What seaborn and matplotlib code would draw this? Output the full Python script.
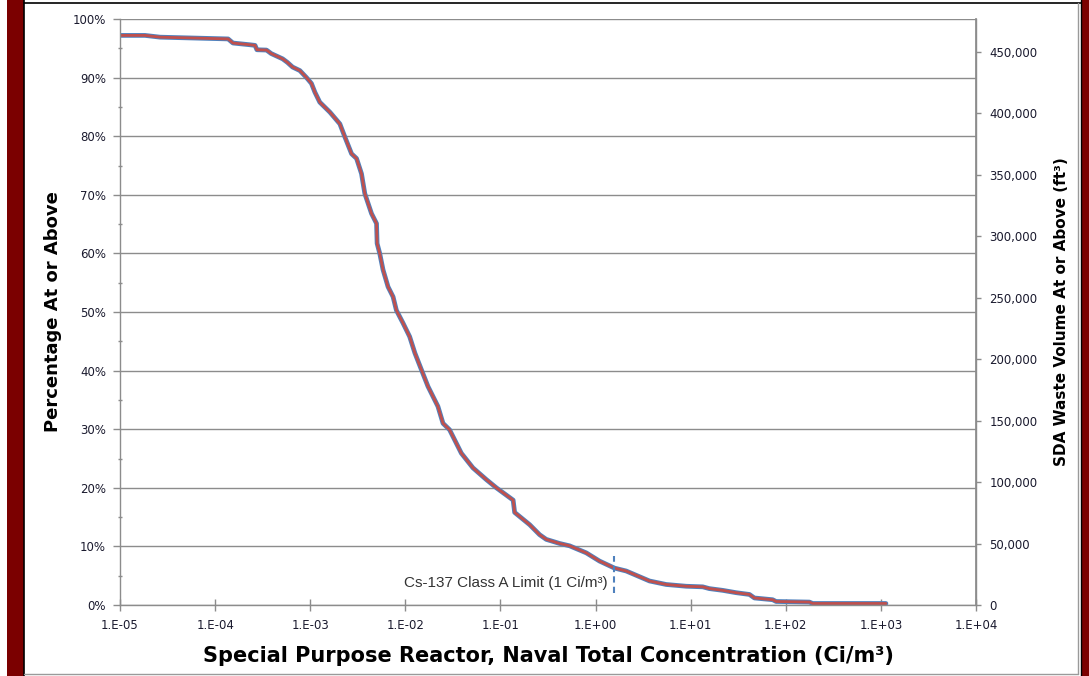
import numpy as np
import pandas as pd
import matplotlib
matplotlib.use("Agg")
import matplotlib.pyplot as plt
import seaborn as sns
from matplotlib.ticker import FuncFormatter, LogLocator, MultipleLocator, NullFormatter
from matplotlib.patches import Rectangle
from matplotlib.lines import Line2D

# ---- data ----
conc = [1.0e-5, 1.83e-5, 2.64e-5, 1.37e-4, 1.54e-4, 2.33e-4, 2.63e-4, 2.75e-4,
        3.47e-4, 3.89e-4, 5.13e-4, 5.75e-4, 6.52e-4, 7.78e-4, 9.14e-4, 1.03e-3,
        1.12e-3, 1.26e-3, 1.61e-3, 2.05e-3, 2.31e-3, 2.72e-3, 3.07e-3, 3.46e-3,
        3.75e-3, 4.41e-3, 4.98e-3, 5.05e-3, 5.38e-3, 5.83e-3, 6.58e-3, 7.43e-3,
        8.05e-3, 9.46e-3, 1.11e-2, 1.26e-2, 1.48e-2, 1.73e-2, 2.20e-2, 2.49e-2,
        2.92e-2, 3.88e-2, 5.14e-2, 7.11e-2, 9.06e-2, 1.36e-1, 1.41e-1, 2.03e-1,
        2.58e-1, 3.03e-1, 4.19e-1, 5.33e-1, 7.98e-1, 1.10, 1.58, 2.10, 3.69, 5.53,
        8.97, 13.4, 15.7, 21.7, 30.1, 41.5, 46.8, 72.8, 79.1, 177.0, 192.0, 1130.0]
pct = [97.2, 97.2, 96.9, 96.6, 95.9, 95.6, 95.5, 94.75,
       94.7, 94.1, 93.2, 92.6, 91.8, 91.2, 90.0, 89.0,
       87.5, 85.8, 84.1, 82.1, 79.9, 77.0, 76.2, 73.6,
       70.2, 66.8, 65.1, 61.7, 60.0, 57.2, 54.3, 52.6,
       50.3, 48.1, 45.8, 43.0, 40.1, 37.3, 33.9, 31.0,
       29.9, 25.9, 23.4, 21.4, 20.0, 17.9, 15.8, 13.7,
       12.0, 11.2, 10.5, 10.1, 8.9, 7.5, 6.3, 5.8, 4.1, 3.5,
       3.2, 3.1, 2.8, 2.5, 2.1, 1.8, 1.2, 0.9, 0.6, 0.5, 0.26, 0.26]
total_volume_max = 476600          # right-axis top (ft3) matching 100 %
limit_x = [1.56, 1.56]
limit_y = [2.1, 8.3]
limit_label = "Cs-137 Class A Limit (1 Ci/m³)"
x_ticks = [1e-5, 1e-4, 1e-3, 1e-2, 1e-1, 1e0, 1e1, 1e2, 1e3, 1e4]
x_tick_labels = ["1.E-05", "1.E-04", "1.E-03", "1.E-02", "1.E-01",
                 "1.E+00", "1.E+01", "1.E+02", "1.E+03", "1.E+04"]

df = pd.DataFrame({"conc": conc, "pct": pct})

sns.set_theme(style="white")
plt.rcParams["font.family"] = ["DejaVu Sans"]

W, H = 1089, 676
fig = plt.figure(figsize=(W / 100, H / 100), dpi=100)
fig.patch.set_facecolor("white")

L, R, T, B = 120, 976, 19, 605
ax = fig.add_axes([L / W, 1 - B / H, (R - L) / W, (B - T) / H])
ax.set_facecolor("white")

# frame decorations
def px_rect(x0, y0, x1, y1, **kw):
    fig.add_artist(Rectangle((x0 / W, 1 - y1 / H), (x1 - x0) / W, (y1 - y0) / H,
                             transform=fig.transFigure, **kw))

px_rect(7, 0, 24, H, facecolor="#7B0000", edgecolor="none")
px_rect(1081, 0, 1089, H, facecolor="#7B0000", edgecolor="none")
fig.add_artist(Line2D([24 / W, 24 / W], [0, 1], transform=fig.transFigure, color="black", lw=1.2))
fig.add_artist(Line2D([1081 / W, 1081 / W], [0, 1], transform=fig.transFigure, color="black", lw=1.0))
fig.add_artist(Line2D([24 / W, 1081 / W], [1 - 2.5 / H, 1 - 2.5 / H], transform=fig.transFigure, color="black", lw=1.2))
fig.add_artist(Line2D([1078 / W, 1078 / W], [1 - 674 / H, 1 - 3 / H], transform=fig.transFigure, color="#9a9a9a", lw=1.0))
fig.add_artist(Line2D([24 / W, 1078 / W], [1 - 674 / H, 1 - 674 / H], transform=fig.transFigure, color="#9a9a9a", lw=1.0))

# gridlines
ax.set_xscale("log")
ax.set_xlim(1e-5, 1e4)
ax.set_ylim(0, 100)
ax.yaxis.set_major_locator(MultipleLocator(10))
ax.yaxis.set_minor_locator(MultipleLocator(5))
ax.grid(axis="y", which="major", color="#8c8c8c", lw=1.0)
ax.grid(axis="x", visible=False)
ax.set_axisbelow(True)

# volume series (blue, behind) and percentage series (red)
sns.lineplot(data=df, x="conc", y="pct", ax=ax, estimator=None, sort=False,
             color="#4F81BD", lw=3.4, legend=False)
sns.lineplot(data=df, x="conc", y="pct", ax=ax, estimator=None, sort=False,
             color="#C0504D", lw=2.0, legend=False)

# limit line and label
ax.plot(limit_x, limit_y, color="#4F81BD", lw=1.5, ls=(0, (3, 2)))
ax.text(1.35, 3.7, limit_label, ha="right", va="center", fontsize=11,
        family=["Liberation Sans", "DejaVu Sans"], color="#333333")

# spines
for s in ["left", "bottom", "right"]:
    ax.spines[s].set_color("#8c8c8c")
    ax.spines[s].set_linewidth(1.0)
ax.spines["top"].set_visible(False)

tick_color = "#1a1a2e"
ax.set_xticks(x_ticks)
ax.set_xticklabels(x_tick_labels)
ax.xaxis.set_minor_locator(LogLocator(base=10, subs=np.arange(2, 10)))
ax.xaxis.set_minor_formatter(NullFormatter())
ax.tick_params(axis="x", which="major", direction="inout", length=8, width=1,
               color="#8c8c8c", labelsize=8.5, labelcolor=tick_color, pad=6, bottom=True)
ax.tick_params(axis="x", which="minor", direction="in", length=3.5, width=1,
               color="#8c8c8c", bottom=True)
ax.yaxis.set_major_formatter(FuncFormatter(lambda v, p: f"{int(round(v))}%"))
ax.tick_params(axis="y", which="major", direction="out", length=5, width=1,
               color="#8c8c8c", labelsize=8.5, labelcolor=tick_color, pad=5, left=True)
ax.tick_params(axis="y", which="minor", direction="inout", length=3, width=1,
               color="#8c8c8c", left=True)

ax.set_xlabel("Special Purpose Reactor, Naval Total Concentration (Ci/m³)",
              fontsize=15, fontweight="heavy", labelpad=10, color="black")
ax.set_ylabel("Percentage At or Above", fontsize=13, fontweight="heavy",
              labelpad=8, color="black")

# right axis
ax2 = ax.twinx()
ax2.set_ylim(0, total_volume_max)
ax2.yaxis.set_major_locator(MultipleLocator(50000))
ax2.yaxis.set_major_formatter(FuncFormatter(lambda v, p: f"{int(v):,}"))
ax2.tick_params(axis="y", which="major", direction="out", length=3.5, width=1,
                color="#8c8c8c", labelsize=8.5, labelcolor=tick_color, pad=6, right=True)
ax2.grid(False)
for s in ["left", "bottom", "top"]:
    ax2.spines[s].set_visible(False)
ax2.spines["right"].set_color("#8c8c8c")
ax2.set_ylabel("SDA Waste Volume At or Above (ft³)", fontsize=11, fontweight="bold",
               labelpad=12, color="black")

fig.savefig("out.png", dpi=100, facecolor="white")
